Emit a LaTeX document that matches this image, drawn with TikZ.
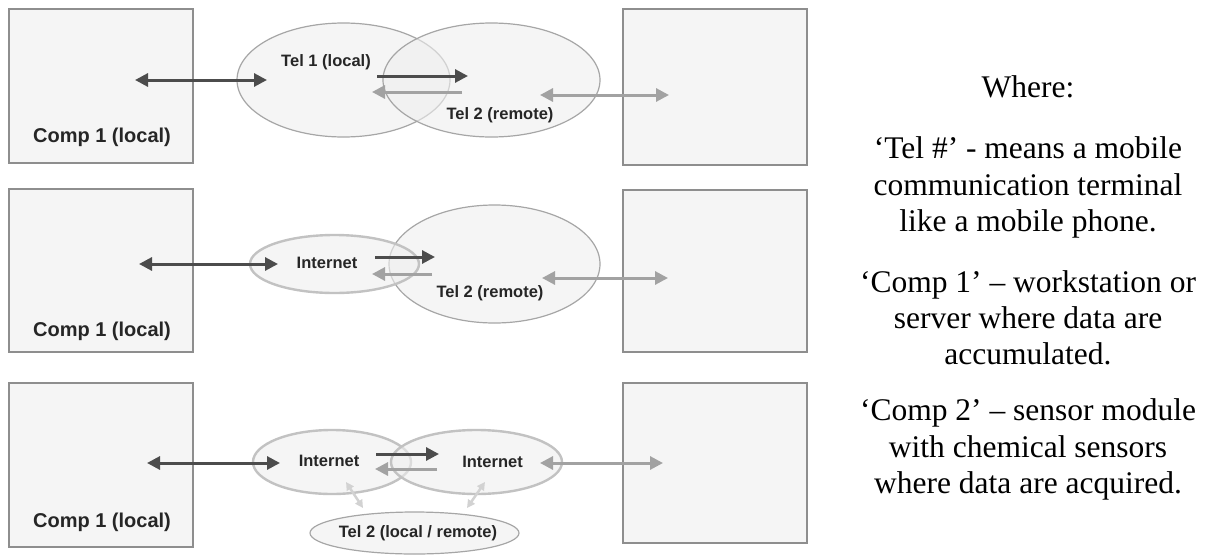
\documentclass[tikz,border=0pt]{standalone}
\usepackage{fontspec}
\setmainfont{Liberation Serif}
\newfontfamily\labelfont{Liberation Sans}
\usetikzlibrary{shapes.geometric,arrows.meta}

\definecolor{boxfill}{HTML}{F5F5F5}
\definecolor{boxline}{HTML}{8E8E8E}
\definecolor{ellfill}{HTML}{EEEEEE}
\definecolor{ellline}{HTML}{A6A6A6}
\definecolor{netline}{HTML}{C2C2C2}
\definecolor{darkarrow}{HTML}{4C4C4C}
\definecolor{lightarrow}{HTML}{A2A2A2}
\definecolor{faintarrow}{HTML}{D2D2D2}

\tikzset{
  unitbox/.style={draw=boxline, line width=1.4pt, fill=boxfill, inner sep=0pt},
  oval/.style={ellipse, draw=ellline, line width=1.2pt, fill=ellfill, fill opacity=0.6, draw opacity=1, inner sep=0pt},
  netoval/.style={oval, draw=netline, line width=2.4pt},
  compname/.style={font=\labelfont\bfseries\fontsize{20}{24}\selectfont, text=black!85},
  ovalname/.style={font=\labelfont\bfseries\fontsize{16.5}{20}\selectfont, text=black!85},
  legend/.style={font=\fontsize{31.5}{36}\selectfont, anchor=base},
  tip/.style={-{Triangle[length=13pt,width=13pt]}},
  tips/.style={{Triangle[length=13pt,width=13pt]}-{Triangle[length=13pt,width=13pt]}},
  darkline/.style={draw=darkarrow, line width=3pt},
  lightline/.style={draw=lightarrow, line width=3pt},
  faintline/.style={draw=faintarrow, line width=2.5pt, {Triangle[length=8pt,width=8pt]}-{Triangle[length=8pt,width=8pt]}},
}

\begin{document}
\begin{tikzpicture}[x=1pt, y=-1pt]
\useasboundingbox (0,0) rectangle (1208,555);

% ---------- first scheme: two phones ----------
\node[unitbox, minimum width=184pt, minimum height=154pt] (c1a) at (101,86) {};
\node[unitbox, minimum width=184pt, minimum height=156pt] (c2a) at (715,87) {};
\node[compname] (c1atext) at (102,137) {Comp 1 (local)};
\node[oval, minimum width=213pt, minimum height=114pt] (tel1a) at (343.5,80) {};
\node[oval, minimum width=217pt, minimum height=114pt] (tel2a) at (491.5,80) {};
\node[ovalname] (tel1atext) at (326,62) {Tel 1 (local)};
\node[ovalname] (tel2atext) at (500,115) {Tel 2 (remote)};

\coordinate (a1l) at (135,80);  \coordinate (a1r) at (267,80);
\coordinate (a2l) at (377,76);  \coordinate (a2r) at (468,76);
\coordinate (a3l) at (372,92);  \coordinate (a3r) at (462,92);
\coordinate (a4l) at (540,95);  \coordinate (a4r) at (669,95);
\draw[darkline, tips] (a1l) -- (a1r);
\draw[darkline, tip] (a2l) -- (a2r);
\draw[lightline, tip] (a3r) -- (a3l);
\draw[lightline, tips] (a4l) -- (a4r);

% ---------- second scheme: internet and remote phone ----------
\node[unitbox, minimum width=184pt, minimum height=163pt] (c1b) at (101,270.5) {};
\node[unitbox, minimum width=184pt, minimum height=162pt] (c2b) at (715,271) {};
\node[compname] (c1btext) at (102,331) {Comp 1 (local)};
\node[oval, minimum width=211pt, minimum height=118pt] (tel2b) at (494.5,264) {};
\node[netoval, minimum width=169pt, minimum height=58pt] (netb) at (334.5,264) {};
\node[ovalname] (netbtext) at (327,263) {Internet};
\node[ovalname] (tel2btext) at (490,293) {Tel 2 (remote)};

\coordinate (b1l) at (139,264);  \coordinate (b1r) at (278,264);
\coordinate (b2l) at (375,257);  \coordinate (b2r) at (435,257);
\coordinate (b3l) at (372,274);  \coordinate (b3r) at (432,274);
\coordinate (b4l) at (542,278);  \coordinate (b4r) at (668,278);
\draw[darkline, tips] (b1l) -- (b1r);
\draw[darkline, tip] (b2l) -- (b2r);
\draw[lightline, tip] (b3r) -- (b3l);
\draw[lightline, tips] (b4l) -- (b4r);

% ---------- third scheme: internet on both sides ----------
\node[unitbox, minimum width=184pt, minimum height=164pt] (c1c) at (101,465) {};
\node[unitbox, minimum width=184pt, minimum height=160pt] (c2c) at (715,463) {};
\node[compname] (c1ctext) at (102,522) {Comp 1 (local)};
\node[netoval, minimum width=158pt, minimum height=64pt] (netc1) at (332,462) {};
\node[netoval, minimum width=171pt, minimum height=64pt] (netc2) at (476.5,462) {};
\node[oval, minimum width=209pt, minimum height=42pt] (tel2c) at (414.5,533) {};
\node[ovalname] (netc1text) at (329,461) {Internet};
\node[ovalname] (netc2text) at (492.5,462) {Internet};
\node[ovalname] (tel2ctext) at (418,533) {Tel 2 (local / remote)};

\coordinate (d1l) at (147,463);  \coordinate (d1r) at (280,463);
\coordinate (d2l) at (376,454);  \coordinate (d2r) at (439,454);
\coordinate (d3l) at (375,469);  \coordinate (d3r) at (437,469);
\coordinate (d4l) at (540,463);  \coordinate (d4r) at (663,463);
\coordinate (d5t) at (346,482);  \coordinate (d5b) at (363,508);
\coordinate (d6t) at (485,482);  \coordinate (d6b) at (467,508);
\draw[darkline, tips] (d1l) -- (d1r);
\draw[darkline, tip] (d2l) -- (d2r);
\draw[lightline, tip] (d3r) -- (d3l);
\draw[lightline, tips] (d4l) -- (d4r);
\draw[faintline] (d5t) -- (d5b);
\draw[faintline] (d6t) -- (d6b);

% ---------- legend ----------
\node[legend] (lg0) at (1028,97) {Where:};
\node[legend] (lg1) at (1028,158) {`Tel \#' - means a mobile};
\node[legend] (lg2) at (1028,195) {communication terminal};
\node[legend] (lg3) at (1028,231) {like a mobile phone.};
\node[legend] (lg4) at (1028,292) {`Comp 1' -- workstation or};
\node[legend] (lg5) at (1028,328) {server where data are};
\node[legend] (lg6) at (1028,364) {accumulated.};
\node[legend] (lg7) at (1028,420) {`Comp 2' -- sensor module};
\node[legend] (lg8) at (1028,457) {with chemical sensors};
\node[legend] (lg9) at (1028,493) {where data are acquired.};
\end{tikzpicture}
\end{document}
